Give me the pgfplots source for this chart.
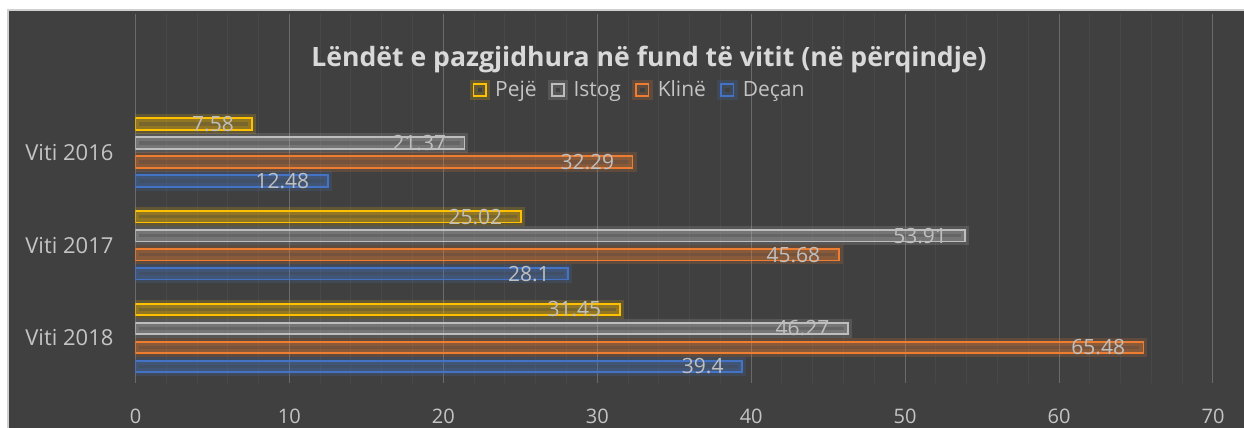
\documentclass[border=0pt]{standalone}
\usepackage{fontspec}
\setmainfont{Open Sans}
\usepackage{pgfplots}
\pgfplotsset{compat=1.18}
\definecolor{bg}{HTML}{404040}
\definecolor{bordercol}{HTML}{D0D0D0}
\definecolor{majg}{HTML}{6A6A6A}
\definecolor{ming}{HTML}{484848}
\definecolor{labcol}{HTML}{C4C4C4}
\definecolor{datcol}{HTML}{BFBFBF}
\definecolor{titcol}{HTML}{D9D9D9}
\definecolor{ycol}{HTML}{FFC000}
\definecolor{gcol}{HTML}{BDBDBD}
\definecolor{ocol}{HTML}{ED7D31}
\definecolor{bcol}{HTML}{4472C4}
\pgfplotsset{
  mybar/.style={draw=#1, fill=#1, fill opacity=0.3, line width=0.9pt,
    preaction={draw=#1, draw opacity=0.18, line width=4pt, fill=none},
    legend image code/.code={\draw[draw=#1, line width=0.9pt, fill=none, fill opacity=0, draw opacity=1] (0pt,-3.1pt) rectangle (6.2pt,3.1pt);}},
}
\begin{document}
\begin{tikzpicture}
\path[use as bounding box] (-67.75pt,-22.5pt) rectangle (554.25pt,191.5pt);
\fill[bg] (-63.75pt,-22.5pt) rectangle (554.25pt,186.5pt);
\draw[bordercol, line width=0.6pt] (-63.75pt,-22.5pt) -- (-63.75pt,186.5pt) -- (554.25pt,186.5pt);
\begin{axis}[
  scale only axis, width=538.75pt, height=184.5pt,
  xmin=0, xmax=70, ymin=-0.485, ymax=3.493,
  xbar, bar width=5.7pt,
  axis line style={draw=none},
  major tick length=0pt, minor tick length=0pt,
  xtick={0,10,...,70}, minor x tick num=4,
  xmajorgrids, xminorgrids,
  major grid style={color=majg, line width=0.5pt},
  minor grid style={color=ming, line width=0.5pt},
  ytick={0,1,2}, yticklabels={Viti 2018,Viti 2017,Viti 2016},
  xticklabel style={font=\fontsize{10}{12}\selectfont, text=labcol, yshift=-9.7pt},
  yticklabel style={font=\fontsize{11}{13}\selectfont, text=labcol, xshift=-7.5pt},
  /pgf/number format/assume math mode=true,
  nodes near coords, point meta=explicit symbolic,
  every node near coord/.append style={anchor=east, inner sep=0pt, xshift=-8.75pt,
    font=\fontsize{10.5}{12}\selectfont, text=datcol, text opacity=1, fill opacity=1},
  legend columns=4,
  legend style={at={(0.466,0.794)}, anchor=center, draw=none, fill=none,
    text=labcol, font=\fontsize{10.5}{13}\selectfont,
    nodes={inner sep=0.6pt},
    /tikz/every odd column/.append style={column sep=2pt},
    /tikz/every even column/.append style={column sep=5pt}},
]
\addplot[mybar=ycol, bar shift=14.25pt] coordinates {(7.58,2) [7.58] (25.02,1) [25.02] (31.45,0) [31.45]};
\addlegendentry{Pejë}
\addplot[mybar=gcol, bar shift=4.75pt] coordinates {(21.37,2) [21.37] (53.91,1) [53.91] (46.27,0) [46.27]};
\addlegendentry{Istog}
\addplot[mybar=ocol, bar shift=-4.75pt] coordinates {(32.29,2) [32.29] (45.68,1) [45.68] (65.48,0) [65.48]};
\addlegendentry{Klinë}
\addplot[mybar=bcol, bar shift=-14.25pt] coordinates {(12.48,2) [12.48] (28.1,1) [28.1] (39.4,0) [39.4]};
\addlegendentry{Deçan}
\end{axis}
\node[anchor=base, font=\bfseries\fontsize{13.3}{16}\selectfont, text=titcol] at (256.75pt,158.15pt) {Lëndët e pazgjidhura në fund të vitit (në përqindje)};
\end{tikzpicture}
\end{document}
